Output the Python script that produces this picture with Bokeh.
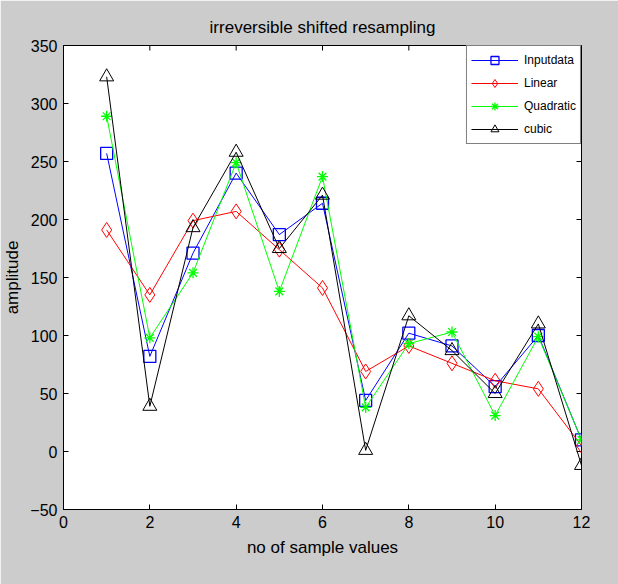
from bokeh.plotting import figure
from bokeh.models import Range1d, FixedTicker, Legend, LegendItem
from bokeh.embed import file_html
from bokeh.resources import INLINE

samples = [1, 2, 3, 4, 5, 6, 7, 8, 9, 10, 11, 12]
inputdata = [257, 82, 171, 240, 187, 214, 44, 102, 91, 56, 100, 10]
linear = [191, 135, 199, 207, 174, 141, 69, 91, 76, 61, 54, 5]
quadratic = [289, 98, 154, 249, 138, 237, 38, 93, 103, 31, 99, 10]
cubic = [323, 39, 193, 258, 175, 221, 1, 117, 87, 50, 110, -12]
x_ticks = [0, 2, 4, 6, 8, 10, 12]
y_ticks = [-50, 0, 50, 100, 150, 200, 250, 300, 350]

FONT = "Liberation Sans"
BG = "#cccccc"

p = figure(width=618, height=584, output_backend="svg", toolbar_location=None,
           x_range=Range1d(0, 12), y_range=Range1d(-50, 350),
           min_border_left=62, min_border_right=37, min_border_top=45, min_border_bottom=75,
           title="irreversible shifted resampling")
p.background_fill_color = "white"
p.border_fill_color = BG
p.outline_line_color = "black"
p.outline_line_width = 1
p.grid.visible = False

p.title.align = "center"
p.title.text_font = FONT
p.title.text_font_size = "17px"
p.title.text_font_style = "normal"
p.title.text_color = "black"
p.title.offset = 0
p.title.standoff = 17

for ax in (p.xaxis[0], p.yaxis[0]):
    ax.major_tick_in = 5
    ax.major_tick_out = 0
    ax.minor_tick_in = 0
    ax.minor_tick_out = 0
    ax.axis_line_color = "black"
    ax.major_tick_line_color = "black"
    ax.major_label_text_font = FONT
    ax.major_label_text_font_size = "16px"
    ax.major_label_text_color = "black"
    ax.axis_label_text_font = FONT
    ax.axis_label_text_font_size = "17px"
    ax.axis_label_text_font_style = "normal"
    ax.axis_label_text_color = "black"

p.xaxis.ticker = FixedTicker(ticks=x_ticks)
p.yaxis.ticker = FixedTicker(ticks=y_ticks)
p.xaxis.axis_label = "no of sample values"
p.yaxis.axis_label = "amplitude"
p.xaxis.major_label_standoff = 6
p.yaxis.major_label_standoff = 6
p.xaxis.axis_label_standoff = 7
p.yaxis.axis_label_standoff = 5

# inward ticks on the top and right edges of the box (clipped to the frame)
p.scatter(x_ticks, [350] * len(x_ticks), marker="dash", angle=1.5708, size=10,
          line_color="black", line_width=1)
p.scatter([12] * len(y_ticks), y_ticks, marker="dash", size=10,
          line_color="black", line_width=1)

r1l = p.line(samples, inputdata, line_color="#0000ff", line_width=1)
r1m = p.scatter(samples, inputdata, marker="square", size=12, line_color="#0000ff",
                fill_color=None, line_width=1.3)
r2l = p.line(samples, linear, line_color="#ff0000", line_width=1)
r2m = p.scatter(samples, linear, marker="diamond", size=15, line_color="#ff0000",
                fill_color=None, line_width=1)
r3l = p.line(samples, quadratic, line_color="#00ff00", line_width=1)
r3m = p.scatter(samples, quadratic, marker="asterisk", size=11, line_color="#00ff00",
                line_width=1.3)
r4l = p.line(samples, cubic, line_color="black", line_width=1)
r4m = p.scatter(samples, cubic, marker="triangle", size=14, line_color="black",
                fill_color=None, line_width=1)

legend = Legend(items=[
    LegendItem(label="Inputdata", renderers=[r1l, r1m]),
    LegendItem(label="Linear", renderers=[r2l, r2m]),
    LegendItem(label="Quadratic", renderers=[r3l, r3m]),
    LegendItem(label="cubic", renderers=[r4l, r4m]),
], location="top_right")
legend.margin = 0
legend.padding = 4
legend.spacing = 3
legend.glyph_width = 47
legend.glyph_height = 20
legend.label_standoff = 6
legend.label_width = 50
legend.label_text_font = FONT
legend.label_text_font_size = "12px"
legend.label_text_color = "black"
legend.border_line_color = "black"
legend.border_line_width = 1
legend.background_fill_color = "white"
legend.background_fill_alpha = 1
p.add_layout(legend, "center")

open("out.html", "w").write(file_html(p, INLINE))
